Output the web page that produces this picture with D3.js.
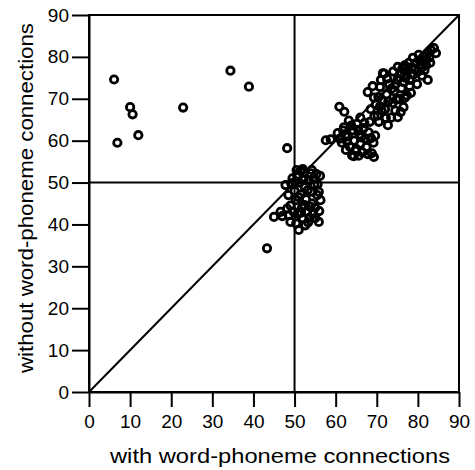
<!DOCTYPE html>
<html>
<head>
<meta charset="utf-8">
<script src="https://cdn.jsdelivr.net/npm/d3@7"></script>
<style>
  body { margin: 0; background: #fff; }
  svg { display: block; }
</style>
</head>
<body>
<svg id="chart"></svg>
<script>
// axis ticks
const xTicks = [0, 10, 20, 30, 40, 50, 60, 70, 80, 90];
const yTicks = [0, 10, 20, 30, 40, 50, 60, 70, 80, 90];

// words that fall far off the diagonal (upper left)
const outliers = [
  [6.1, 74.6], [10, 68], [10.6, 66.3], [22.9, 67.9], [34.4, 76.7],
  [38.9, 72.9], [12, 61.3], [6.9, 59.5]
];

// cluster around 45-57 / 38-53
const lowCluster = [
  [47.8, 49.4], [48.5, 47], [49, 44.5], [49, 40.6], [49.5, 51], [50, 48],
  [50.3, 45.8], [50.6, 51.8], [50.8, 42.5], [51, 38.7], [51.2, 50], [51.5, 47.2],
  [51.8, 44], [52, 41.5], [52.3, 52.5], [52.5, 49], [52.8, 46], [53, 43],
  [53.3, 40.5], [53.5, 50.5], [53.9, 52.2], [54, 47.8], [54.2, 45], [54.5, 42.5],
  [54.8, 49.5], [55, 44], [55.3, 52], [55.5, 47], [55.9, 47.8], [56.3, 45.8],
  [55.9, 40.6], [55, 41.5], [45, 41.8], [46.6, 43], [48.2, 43.8], [47, 42],
  [52, 53.2], [50.5, 53], [49.2, 49.8], [48.2, 58.2], [43.3, 34.3],
  [50.2, 50.2], [51, 46.5], [51.6, 42.8], [52.4, 44.6], [53.2, 48.2], [53.8, 44.2],
  [54.6, 51], [55.6, 49.6], [56, 43.2], [50.4, 40.2], [52.6, 39.8], [48.6, 42.2],
  [49.8, 43], [53.6, 41.6], [51.4, 52.8], [54.2, 53], [56.2, 51.6], [52.2, 50.6]
];

// long band along the diagonal, 57-85
const highCluster = [
  [57.6, 60.1], [58.8, 60.3], [60.5, 61.8], [61.5, 59.5], [62, 63.2], [62.5, 57.8],
  [63, 61], [63.5, 58.5], [64, 56.5], [64.2, 62.5], [64.5, 60], [65, 58],
  [65.2, 64], [65.8, 61.5], [66, 59.3], [66.5, 57.2], [66.8, 63], [67.2, 60.5],
  [67.5, 58.5], [68, 62], [68.3, 64.5], [68.8, 57], [69.2, 59.5], [69.3, 56.1],
  [63.2, 64.8], [61, 60.5], [66, 65.5], [64.4, 56.3], [60.9, 68.1], [62.1, 66.9],
  [62.8, 59.8], [63.8, 63.6], [65.5, 62.6], [66.2, 60.8], [67, 64.2], [68.6, 60.6],
  [64.8, 57.6], [67.8, 56.8], [62.4, 61.2], [65.6, 56.4], [69.6, 61.2], [61.8, 62.4],
  [67.8, 71.6], [69.3, 70.3], [68.5, 67.5], [69.8, 68.6], [70.2, 66], [70.8, 72.8],
  [71, 74.5], [71.5, 69.5], [72, 67.5], [72.4, 71], [72.7, 63.7], [73, 73.5],
  [73.5, 65.5], [73.8, 69], [74.2, 71.8], [74.5, 67.2], [75, 74.5], [75.1, 65.6],
  [75.5, 70], [76, 72.5], [76.5, 68], [77, 75], [77.3, 70.8], [78, 73],
  [78.3, 71.4], [70.5, 64.5], [71.8, 76], [72.5, 74.8], [74, 76.5], [69, 73],
  [71.5, 76.1], [70.4, 70.4], [71.2, 67.2], [72.8, 69.4], [73.6, 72.4], [74.8, 69.8],
  [75.8, 66.8], [76.8, 70.2], [69.4, 65.8], [70.8, 68.2], [72.2, 65.4], [74.6, 73.6],
  [75.1, 77.6], [76, 76], [76.8, 78], [77.5, 76.8], [78, 74.5], [78.5, 77.5],
  [79, 75.8], [79.5, 78.5], [80, 76.5], [80.5, 79], [81, 77.5], [81.5, 80],
  [82, 78], [82.4, 74.5], [82.8, 79.8], [83.2, 81.6], [83.9, 82.1], [84.4, 80.9],
  [81, 75.5], [79.8, 73.5], [77, 77.5], [80.2, 80.5], [76.5, 74], [78.8, 79.8],
  [77.8, 78.6], [79.2, 77], [80.8, 78.2], [82.2, 80.6], [83, 78.6], [76.2, 77.2],
  [78.4, 76], [81.6, 76.8]
];

const width = 475;
const height = 470;
const margin = { top: 15, right: 16, bottom: 78, left: 89 };
const innerWidth = width - margin.left - margin.right;
const innerHeight = height - margin.top - margin.bottom;
const font = "'Liberation Sans', Arial, Helvetica, sans-serif";

const svg = d3.select("#chart")
  .attr("width", width)
  .attr("height", height);

const g = svg.append("g")
  .attr("transform", `translate(${margin.left},${margin.top})`);

const x = d3.scaleLinear().domain([0, 90]).range([0, innerWidth]);
const y = d3.scaleLinear().domain([0, 90]).range([innerHeight, 0]);

// frame
g.append("rect")
  .attr("x", 0)
  .attr("y", 0)
  .attr("width", innerWidth)
  .attr("height", innerHeight)
  .attr("fill", "none")
  .attr("stroke", "#000")
  .attr("stroke-width", 2);

// reference lines at 50 and the diagonal
g.append("line")
  .attr("x1", x(50)).attr("x2", x(50))
  .attr("y1", y(0)).attr("y2", y(90))
  .attr("stroke", "#000").attr("stroke-width", 2);
g.append("line")
  .attr("x1", x(0)).attr("x2", x(90))
  .attr("y1", y(50)).attr("y2", y(50))
  .attr("stroke", "#000").attr("stroke-width", 2);
g.append("line")
  .attr("x1", x(0)).attr("x2", x(90))
  .attr("y1", y(0)).attr("y2", y(90))
  .attr("stroke", "#000").attr("stroke-width", 2);

const xAxisG = g.append("g")
  .attr("transform", `translate(0,${innerHeight})`)
  .call(d3.axisBottom(x).tickValues(xTicks).tickSize(15).tickPadding(8).tickSizeOuter(0));
const yAxisG = g.append("g")
  .call(d3.axisLeft(y).tickValues(yTicks).tickSize(17).tickPadding(3).tickSizeOuter(0));

[xAxisG, yAxisG].forEach(ax => {
  ax.select(".domain").attr("stroke-width", 2);
  ax.selectAll(".tick line").attr("stroke-width", 2);
  ax.selectAll("text")
    .attr("fill", "#000")
    .style("font-size", "19px")
    .style("font-family", font);
});

// points
const allPoints = outliers.concat(lowCluster, highCluster);
g.selectAll("circle.pt")
  .data(allPoints)
  .enter()
  .append("circle")
  .attr("class", "pt")
  .attr("cx", d => x(d[0]))
  .attr("cy", d => y(d[1]))
  .attr("r", 3.7)
  .attr("fill", "none")
  .attr("stroke", "#000")
  .attr("stroke-width", 2.8);

// axis titles
svg.append("text")
  .attr("x", 280)
  .attr("y", 463)
  .attr("text-anchor", "middle")
  .attr("textLength", 340)
  .attr("lengthAdjust", "spacingAndGlyphs")
  .style("font-size", "21px")
  .style("font-family", font)
  .text("with word-phoneme connections");

svg.append("text")
  .attr("transform", "translate(33,198) rotate(-90)")
  .attr("text-anchor", "middle")
  .attr("textLength", 350)
  .attr("lengthAdjust", "spacingAndGlyphs")
  .style("font-size", "21px")
  .style("font-family", font)
  .text("without word-phoneme connections");
</script>
</body>
</html>
